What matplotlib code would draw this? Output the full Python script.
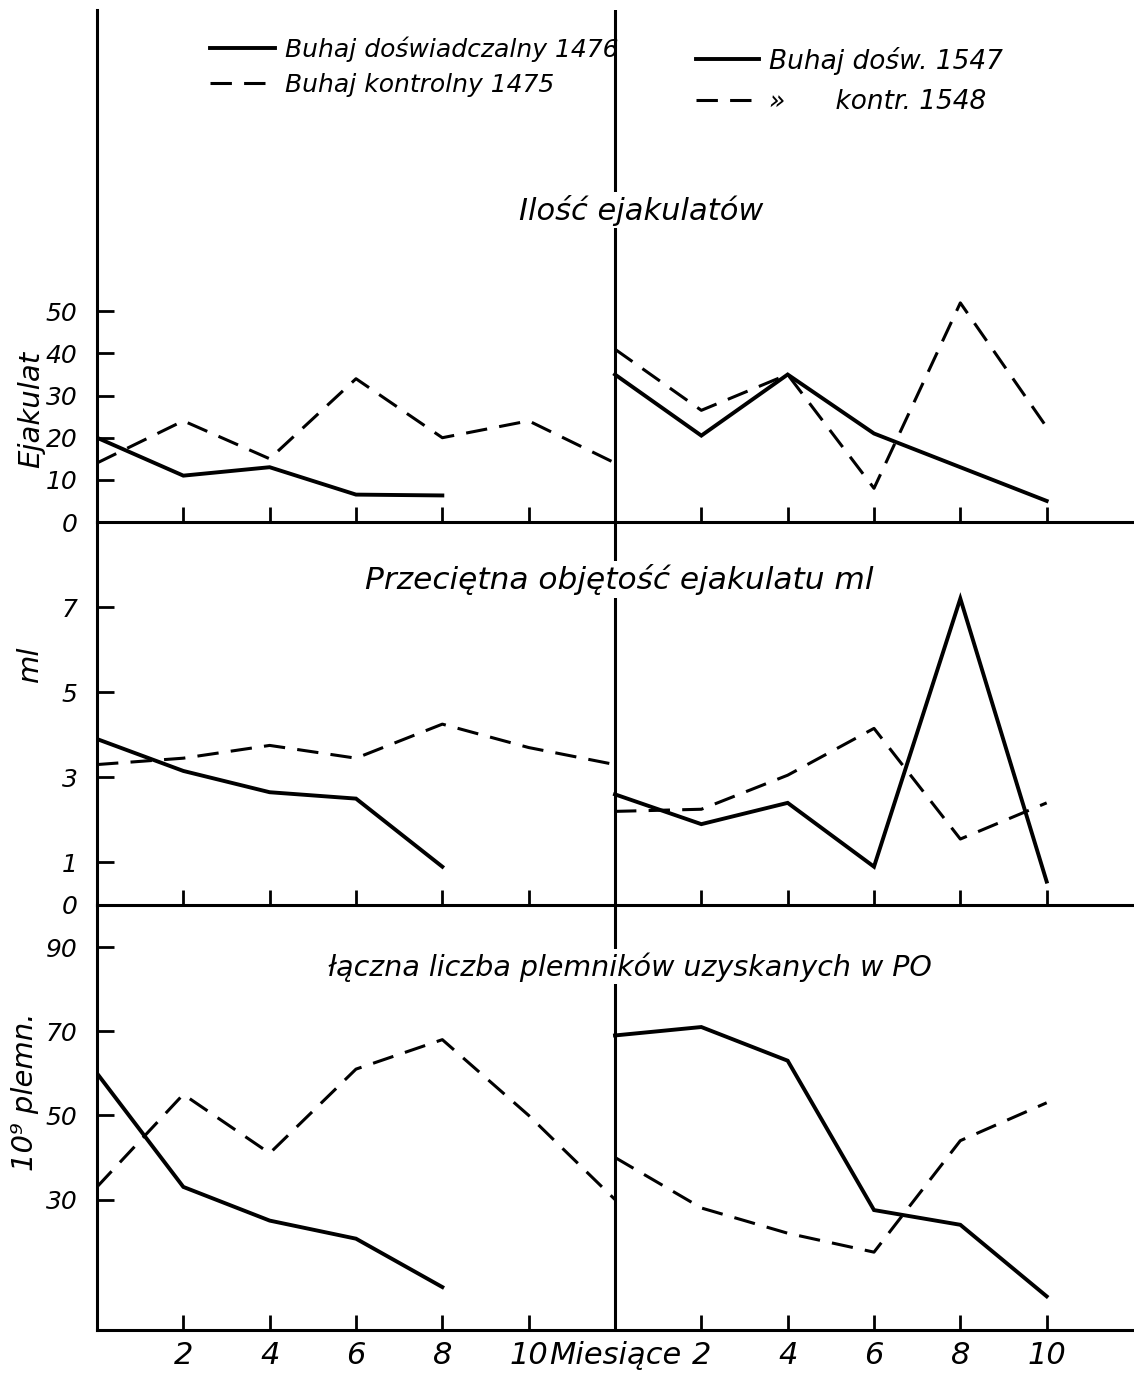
import numpy as np
import matplotlib.pyplot as plt

plt.rcParams['font.family'] = ['Liberation Sans Narrow', 'DejaVu Sans']
plt.rcParams['font.style'] = 'italic'

# miesiące
m_left = [0, 2, 4, 6, 8, 10, 12]
m_right = [0, 2, 4, 6, 8, 10]

# Ilość ejakulatów
ej_1476 = [20, 11, 13, 6.5, 6.3]
ej_1475 = [14, 24, 15, 34, 20, 24, 14]
ej_1547 = [35, 20.5, 35, 21, 13, 5]
ej_1548 = [41, 26.5, 35, 8, 52, 22.5]

# Przeciętna objętość ejakulatu ml
ml_1476 = [3.9, 3.15, 2.65, 2.5, 0.9]
ml_1475 = [3.3, 3.45, 3.75, 3.45, 4.25, 3.7, 3.3]
ml_1547 = [2.6, 1.9, 2.4, 0.9, 7.2, 0.55]
ml_1548 = [2.2, 2.25, 3.05, 4.15, 1.55, 2.4]

# łączna liczba plemników (10^9)
pl_1476 = [60, 33, 25, 20.7, 9.2]
pl_1475 = [33, 55, 41, 61, 68, 50, 30]
pl_1547 = [69, 71, 63, 27.5, 24, 7]
pl_1548 = [40, 28, 22, 17.5, 44, 53]

W, H = 1134, 1377
fig = plt.figure(figsize=(W / 100, H / 100), dpi=100)

x0 = 97 / W
wid = 1036 / W
ax1 = fig.add_axes([x0, (H - 522) / H, wid, 512 / H])
ax2 = fig.add_axes([x0, (H - 905) / H, wid, 383 / H])
ax3 = fig.add_axes([x0, (H - 1330) / H, wid, 425 / H])

xr = np.array(m_right) + 12
solid = dict(color='black', lw=2.8, solid_joinstyle='miter')
dash = dict(color='black', lw=2.2, dashes=(7, 4))

panels = [
    (ax1, ej_1476, ej_1475, ej_1547, ej_1548, (0, 121.5), [0, 10, 20, 30, 40, 50]),
    (ax2, ml_1476, ml_1475, ml_1547, ml_1548, (0, 9.0), [0, 1, 3, 5, 7]),
    (ax3, pl_1476, pl_1475, pl_1547, pl_1548, (-1, 100), [30, 50, 70, 90]),
]

for ax, a, b, c, d, yl, yt in panels:
    ax.plot(m_left[:len(a)], a, **solid, label='Buhaj doświadczalny 1476')
    ax.plot(m_left, b, **dash, label='Buhaj kontrolny 1475')
    ax.plot(xr, c, **solid, label='Buhaj dośw. 1547')
    ax.plot(xr, d, **dash, label='»      kontr. 1548')
    ax.axvline(12, color='black', lw=2.2)
    ax.set_xlim(0, 24)
    ax.set_ylim(*yl)
    ax.set_yticks(yt)
    for s in ['top', 'right']:
        ax.spines[s].set_visible(False)
    for s in ['left', 'bottom']:
        ax.spines[s].set_linewidth(2.2)
    ax.tick_params(axis='y', direction='in', length=12, width=2, labelsize=18, pad=14)
    ax.tick_params(axis='x', direction='in', length=11, width=2, labelsize=22, pad=8)
    ax.set_xticks([2, 4, 6, 8, 10, 12, 14, 16, 18, 20, 22])
    ax.patch.set_alpha(0)

ax1.set_xticklabels([])
ax2.set_xticklabels([])
ax3.set_xticklabels(['2', '4', '6', '8', '10', 'Miesiące', '2', '4', '6', '8', '10'])
ax3.get_xticklines()[10].set_visible(False)
ax3.get_xticklines()[11].set_visible(False)

ax1.set_ylabel('Ejakulat', fontsize=21)
ax1.yaxis.set_label_coords(-0.05, 0.22)
ax2.set_ylabel('ml', fontsize=21)
ax2.yaxis.set_label_coords(-0.051, 0.63)
ax3.set_ylabel('10⁹ plemn.', fontsize=21)
ax3.yaxis.set_label_coords(-0.056, 0.56)

box = dict(fc='white', ec='none', pad=2)
ax1.text(12.6, 74, 'Ilość ejakulatów', fontsize=22, ha='center', va='center', bbox=box)
ax2.text(12.1, 7.65, 'Przeciętna objętość ejakulatu ml', fontsize=22.5, ha='center', va='center', bbox=box)
ax3.text(12.35, 85.3, 'łączna liczba plemników uzyskanych w PO', fontsize=20.5, ha='center', va='center', bbox=box)

h = ax1.get_lines()
leg1 = ax1.legend(h[0:2], [l.get_label() for l in h[0:2]], loc='upper left',
                  bbox_to_anchor=(200 / W, 1 - 26 / H), bbox_transform=fig.transFigure,
                  frameon=False, fontsize=18, handlelength=2.6, handletextpad=0.4,
                  labelspacing=0.45, borderaxespad=0)
ax1.add_artist(leg1)
ax1.legend(h[2:4], [l.get_label() for l in h[2:4]], loc='upper left',
           bbox_to_anchor=(685 / W, 1 - 36 / H), bbox_transform=fig.transFigure,
           frameon=False, fontsize=19, handlelength=2.4, handletextpad=0.4,
           labelspacing=0.55, borderaxespad=0)

fig.savefig('out.png', dpi=100)
